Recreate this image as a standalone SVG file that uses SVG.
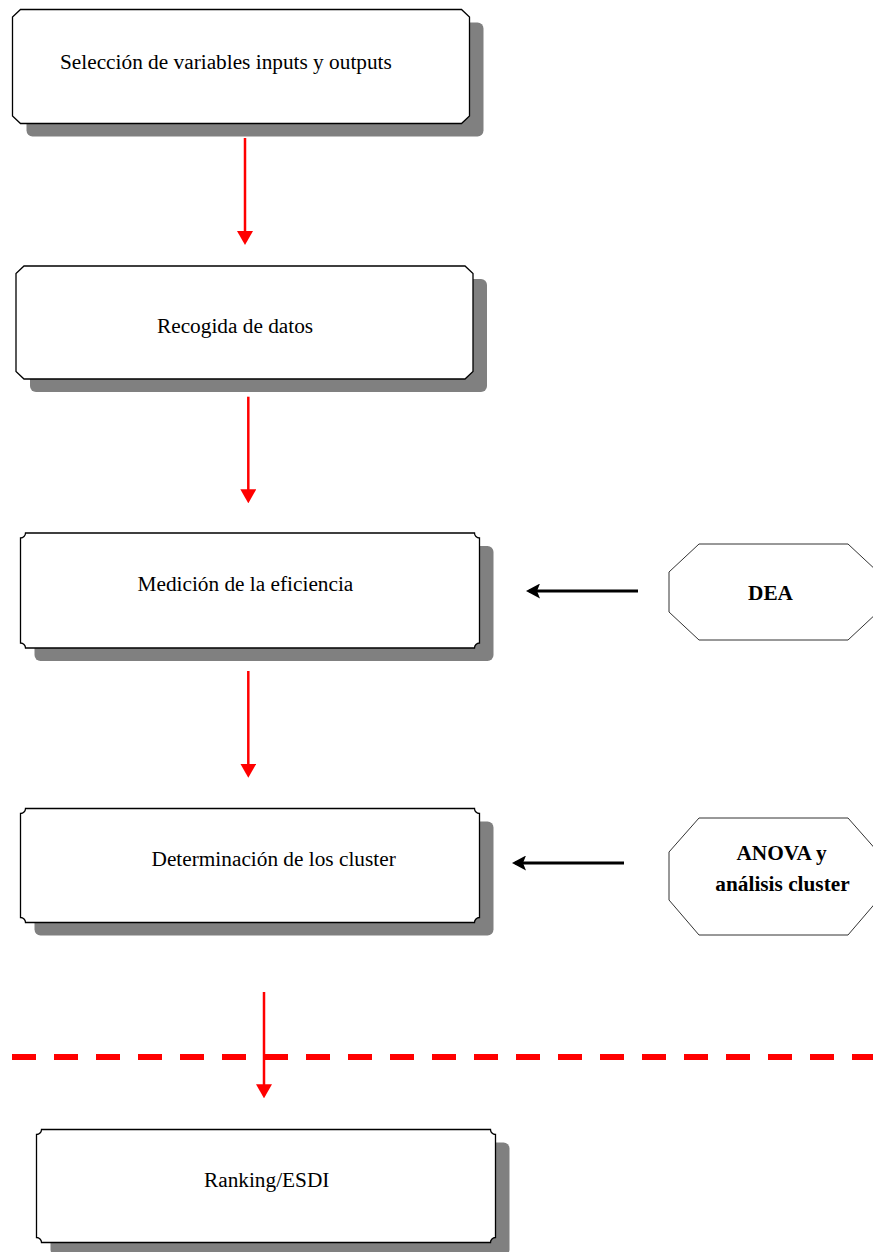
<svg xmlns="http://www.w3.org/2000/svg" width="873" height="1252" viewBox="0 0 873 1252">
<style>
.shadow{fill:#808080;stroke:none}
.box{fill:#fff;stroke:#000;stroke-width:1.3}
.oct{fill:#fff;stroke:#333;stroke-width:1}
.t{font-family:"Liberation Serif","Times New Roman",serif;font-size:21.3px;fill:#000}
.b{font-weight:bold;text-anchor:middle}
.red{stroke:#ff0000;stroke-width:2.5;fill:none}
.blk{stroke:#000;stroke-width:3;fill:none}
.dash{stroke:#ff0000;stroke-width:6;stroke-dasharray:24 18;fill:none}
</style>
<defs>
<marker id="redHead" markerUnits="userSpaceOnUse" viewBox="0 0 14 16" markerWidth="14" markerHeight="16" refX="11" refY="8" orient="auto">
<path d="M0,0 L14,8 L0,16 Z" fill="#ff0000"/>
</marker>
<marker id="blkHead" markerUnits="userSpaceOnUse" viewBox="0 0 14 15" markerWidth="14" markerHeight="15" refX="11" refY="7.5" orient="auto">
<path d="M0,0 L14,7.5 L0,15 L3,7.5 Z" fill="#000"/>
</marker>
</defs>

<g id="node-seleccion">
<rect class="shadow" x="26.5" y="22.5" width="457" height="114" rx="6"/>
<path class="box" d="M20.5,9.5 H461.5 L469.5,17 V116 L461.5,123.5 H20.5 L12.5,116 V17 Z"/>
<text class="t" x="60" y="69">Selección de variables inputs y outputs</text>
</g>

<g id="node-recogida">
<rect class="shadow" x="30" y="279" width="457" height="113" rx="6"/>
<path class="box" d="M24,266 H465 L473,273.5 V371.5 L465,379 H24 L16,371.5 V273.5 Z"/>
<text class="t" x="157" y="333">Recogida de datos</text>
</g>

<g id="node-medicion">
<rect class="shadow" x="34.5" y="546" width="459" height="115" rx="6"/>
<path class="box" d="M25.5,533 H474.5 A5,5 0 0 0 479.5,538 V643 A5,5 0 0 0 474.5,648 H25.5 A5,5 0 0 0 20.5,643 V538 A5,5 0 0 0 25.5,533 Z"/>
<text class="t" x="137.5" y="591">Medición de la eficiencia</text>
</g>

<g id="node-determinacion">
<rect class="shadow" x="34.5" y="821.5" width="459" height="114" rx="6"/>
<path class="box" d="M25.5,808.5 H474.5 A5,5 0 0 0 479.5,813.5 V917.5 A5,5 0 0 0 474.5,922.5 H25.5 A5,5 0 0 0 20.5,917.5 V813.5 A5,5 0 0 0 25.5,808.5 Z"/>
<text class="t" x="151.5" y="866">Determinación de los cluster</text>
</g>

<g id="node-ranking">
<rect class="shadow" x="50.5" y="1142.5" width="459" height="113" rx="6"/>
<path class="box" d="M41.5,1129.5 H490.5 A5,5 0 0 0 495.5,1134.5 V1237.5 A5,5 0 0 0 490.5,1242.5 H41.5 A5,5 0 0 0 36.5,1237.5 V1134.5 A5,5 0 0 0 41.5,1129.5 Z"/>
<text class="t" x="204" y="1186.5">Ranking/ESDI</text>
</g>

<g id="node-dea">
<polygon class="oct" points="699,544 848,544 878,572 878,612 848,640 699,640 669,612 669,572"/>
<text class="t b" x="770.5" y="600">DEA</text>
</g>

<g id="node-anova">
<polygon class="oct" points="699,818 848,818 878,852 878,900 848,935 699,935 669,900 669,852"/>
<text class="t b" x="781.5" y="860">ANOVA y</text>
<text class="t b" x="782.5" y="891">análisis cluster</text>
</g>

<g id="separator">
<line class="dash" x1="12" y1="1057" x2="880" y2="1057"/>
</g>

<g id="connectors">
<line class="red" x1="245" y1="138" x2="245" y2="242" marker-end="url(#redHead)"/>
<line class="red" x1="248.3" y1="396.7" x2="248.3" y2="500.3" marker-end="url(#redHead)"/>
<line class="red" x1="248.3" y1="671" x2="248.3" y2="774.7" marker-end="url(#redHead)"/>
<line class="red" x1="264" y1="992" x2="264" y2="1095.3" marker-end="url(#redHead)"/>
<line class="blk" x1="638" y1="591" x2="529" y2="591" marker-end="url(#blkHead)"/>
<line class="blk" x1="624" y1="863" x2="515" y2="863" marker-end="url(#blkHead)"/>
</g>
</svg>
